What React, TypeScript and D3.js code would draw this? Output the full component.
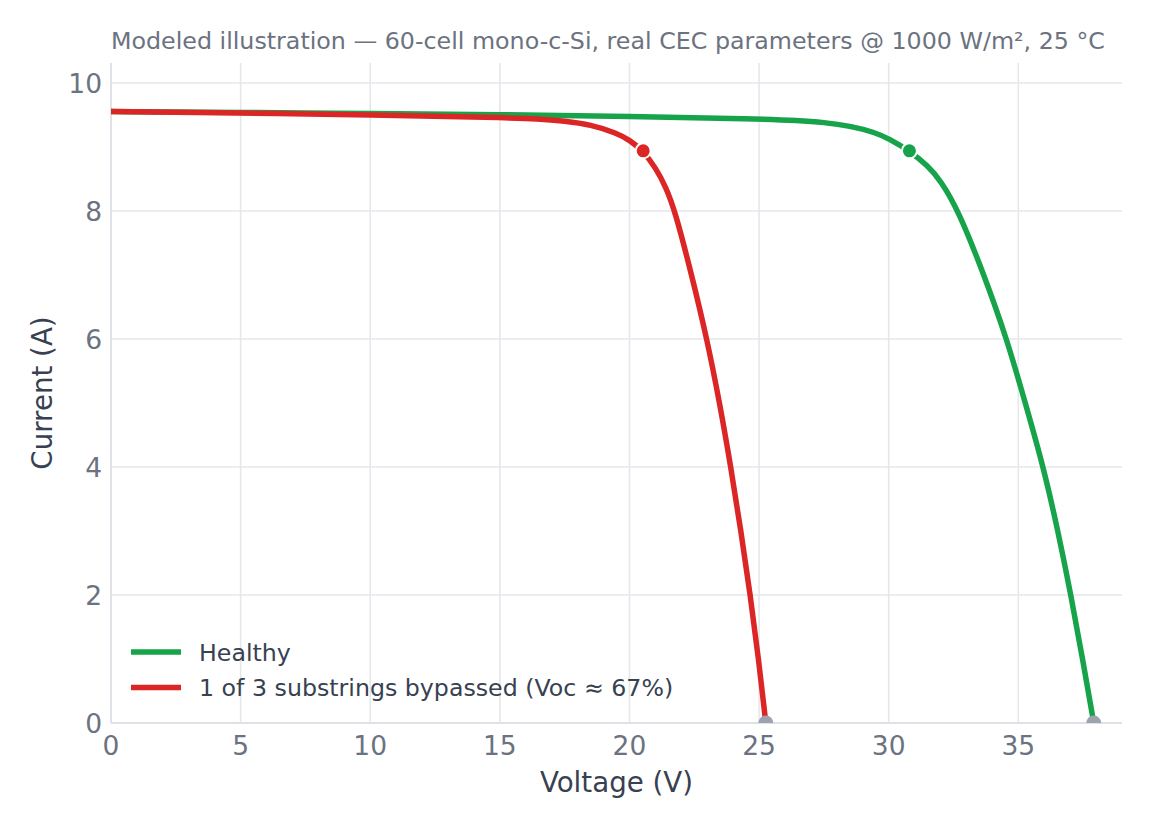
import * as d3 from 'd3';
import React, { useEffect, useRef } from 'react';

// I-V curve samples (volts, amps)
const healthyV = [0, 5, 10, 15, 20, 25, 26.5, 27.5, 28.5, 29.5, 30, 30.8, 31.5, 32, 32.7, 33.68, 34.56, 35.27, 35.97, 36.53, 37.03, 37.48, 37.91];
const healthyI = [9.555, 9.54, 9.525, 9.505, 9.48, 9.44, 9.415, 9.385, 9.33, 9.225, 9.13, 8.94, 8.71, 8.48, 8.0, 7.0, 6.0, 5.0, 4.0, 3.0, 2.0, 1.0, 0];

const bypassV = [0, 5, 10, 15, 16.5, 17.5, 18.5, 19.5, 20.0, 20.53, 21.0, 21.4, 21.76, 22.4, 22.99, 23.48, 23.91, 24.3, 24.66, 24.98, 25.26];
const bypassI = [9.555, 9.53, 9.505, 9.46, 9.44, 9.405, 9.35, 9.22, 9.11, 8.94, 8.68, 8.38, 8.0, 7.0, 6.0, 5.0, 4.0, 3.0, 2.0, 1.0, 0];

// maximum power points and open-circuit voltages
const mppV = [30.8, 20.53];
const mppI = [8.94, 8.94];
const vocV = [37.91, 25.26];

const seriesNames = ['Healthy', '1 of 3 substrings bypassed (Voc ≈ 67%)'];
const seriesColors = ['#16a34a', '#dc2626'];

const xTicks = [0, 5, 10, 15, 20, 25, 30, 35];
const yTicks = [0, 2, 4, 6, 8, 10];

const titleText = 'Modeled illustration — 60-cell mono-c-Si, real CEC parameters @ 1000 W/m², 25 °C';

const W = 1152;
const H = 827;
const FONT = '"DejaVu Sans", sans-serif';

const IVChart: React.FC = () => {
  const ref = useRef<HTMLDivElement>(null);

  useEffect(() => {
    document.body.style.margin = '0';
    const margin = { top: 63, right: 30, bottom: 104, left: 111 };
    const iw = W - margin.left - margin.right;
    const ih = H - margin.top - margin.bottom;

    const x = d3.scaleLinear().domain([0, 39]).range([0, iw]);
    const y = d3.scaleLinear().domain([0, 10.3125]).range([ih, 0]);

    const svg = d3
      .create('svg')
      .attr('width', W)
      .attr('height', H)
      .attr('viewBox', [0, 0, W, H])
      .style('display', 'block')
      .style('background', '#fff')
      .style('font-family', FONT);

    svg
      .append('text')
      .attr('x', margin.left)
      .attr('y', 49)
      .attr('fill', '#6b7280')
      .attr('font-size', 23.75)
      .text(titleText);

    const g = svg.append('g').attr('transform', `translate(${margin.left},${margin.top})`);

    g.append('clipPath')
      .attr('id', 'plot-clip')
      .append('rect')
      .attr('width', iw)
      .attr('height', ih);

    // grid
    g.append('g')
      .selectAll('line')
      .data(xTicks)
      .join('line')
      .attr('x1', d => x(d))
      .attr('x2', d => x(d))
      .attr('y1', 0)
      .attr('y2', ih)
      .attr('stroke', '#e5e7eb')
      .attr('stroke-width', 1.6);
    g.append('g')
      .selectAll('line')
      .data(yTicks)
      .join('line')
      .attr('x1', 0)
      .attr('x2', iw)
      .attr('y1', d => y(d))
      .attr('y2', d => y(d))
      .attr('stroke', '#e5e7eb')
      .attr('stroke-width', 1.6);

    // spines
    g.append('line').attr('x1', 0).attr('x2', 0).attr('y1', 0).attr('y2', ih).attr('stroke', '#dfe1e6').attr('stroke-width', 1.8);
    g.append('line').attr('x1', 0).attr('x2', iw).attr('y1', ih).attr('y2', ih).attr('stroke', '#dfe1e6').attr('stroke-width', 1.8);

    // tick labels
    g.append('g')
      .selectAll('text')
      .data(xTicks)
      .join('text')
      .attr('x', d => x(d))
      .attr('y', ih + 32)
      .attr('text-anchor', 'middle')
      .attr('fill', '#6b7280')
      .attr('font-size', 26.5)
      .text(d => d);
    g.append('g')
      .selectAll('text')
      .data(yTicks)
      .join('text')
      .attr('x', -9)
      .attr('y', d => y(d))
      .attr('dy', '0.36em')
      .attr('text-anchor', 'end')
      .attr('fill', '#6b7280')
      .attr('font-size', 26.5)
      .text(d => d);

    // axis labels
    svg
      .append('text')
      .attr('x', margin.left + iw / 2)
      .attr('y', 792)
      .attr('text-anchor', 'middle')
      .attr('fill', '#374151')
      .attr('font-size', 27.7)
      .text('Voltage (V)');
    svg
      .append('text')
      .attr('transform', `translate(52,${margin.top + ih / 2}) rotate(-90)`)
      .attr('text-anchor', 'middle')
      .attr('fill', '#374151')
      .attr('font-size', 27.7)
      .text('Current (A)');

    // B-spline through the sampled points keeps the knee smooth
    const line = d3
      .line<[number, number]>()
      .x(d => x(d[0]))
      .y(d => y(d[1]))
      .curve(d3.curveBasis);

    const curves: [number, number][][] = [
      healthyV.map((v, i) => [v, healthyI[i]]),
      bypassV.map((v, i) => [v, bypassI[i]]),
    ];

    const plot = g.append('g').attr('clip-path', 'url(#plot-clip)');

    curves.forEach((pts, k) => {
      plot
        .append('path')
        .datum(pts)
        .attr('d', line)
        .attr('fill', 'none')
        .attr('stroke', seriesColors[k])
        .attr('stroke-width', 5.5)
        .attr('stroke-linejoin', 'round')
        .attr('stroke-linecap', 'round');
    });

    plot
      .selectAll('circle.mpp')
      .data(mppV)
      .join('circle')
      .attr('class', 'mpp')
      .attr('cx', d => x(d))
      .attr('cy', (_, i) => y(mppI[i]))
      .attr('r', 7.5)
      .attr('fill', (_, i) => seriesColors[i])
      .attr('stroke', '#fff')
      .attr('stroke-width', 2);

    plot
      .selectAll('circle.voc')
      .data(vocV)
      .join('circle')
      .attr('class', 'voc')
      .attr('cx', d => x(d))
      .attr('cy', y(0))
      .attr('r', 7.5)
      .attr('fill', '#9ca3af');

    // legend
    const legend = svg.append('g');
    seriesNames.forEach((name, k) => {
      const ly = 652 + k * 35.5;
      legend
        .append('line')
        .attr('x1', 131)
        .attr('x2', 181)
        .attr('y1', ly)
        .attr('y2', ly)
        .attr('stroke', seriesColors[k])
        .attr('stroke-width', 5.5);
      legend
        .append('text')
        .attr('x', 199)
        .attr('y', ly)
        .attr('dy', '0.36em')
        .attr('fill', '#374151')
        .attr('font-size', 23.7)
        .text(name);
    });

    d3.select(ref.current).html('');
    d3.select(ref.current).append(() => svg.node());
  }, []);

  return <div ref={ref}></div>;
};

export default function App() {
  return <IVChart />;
}
